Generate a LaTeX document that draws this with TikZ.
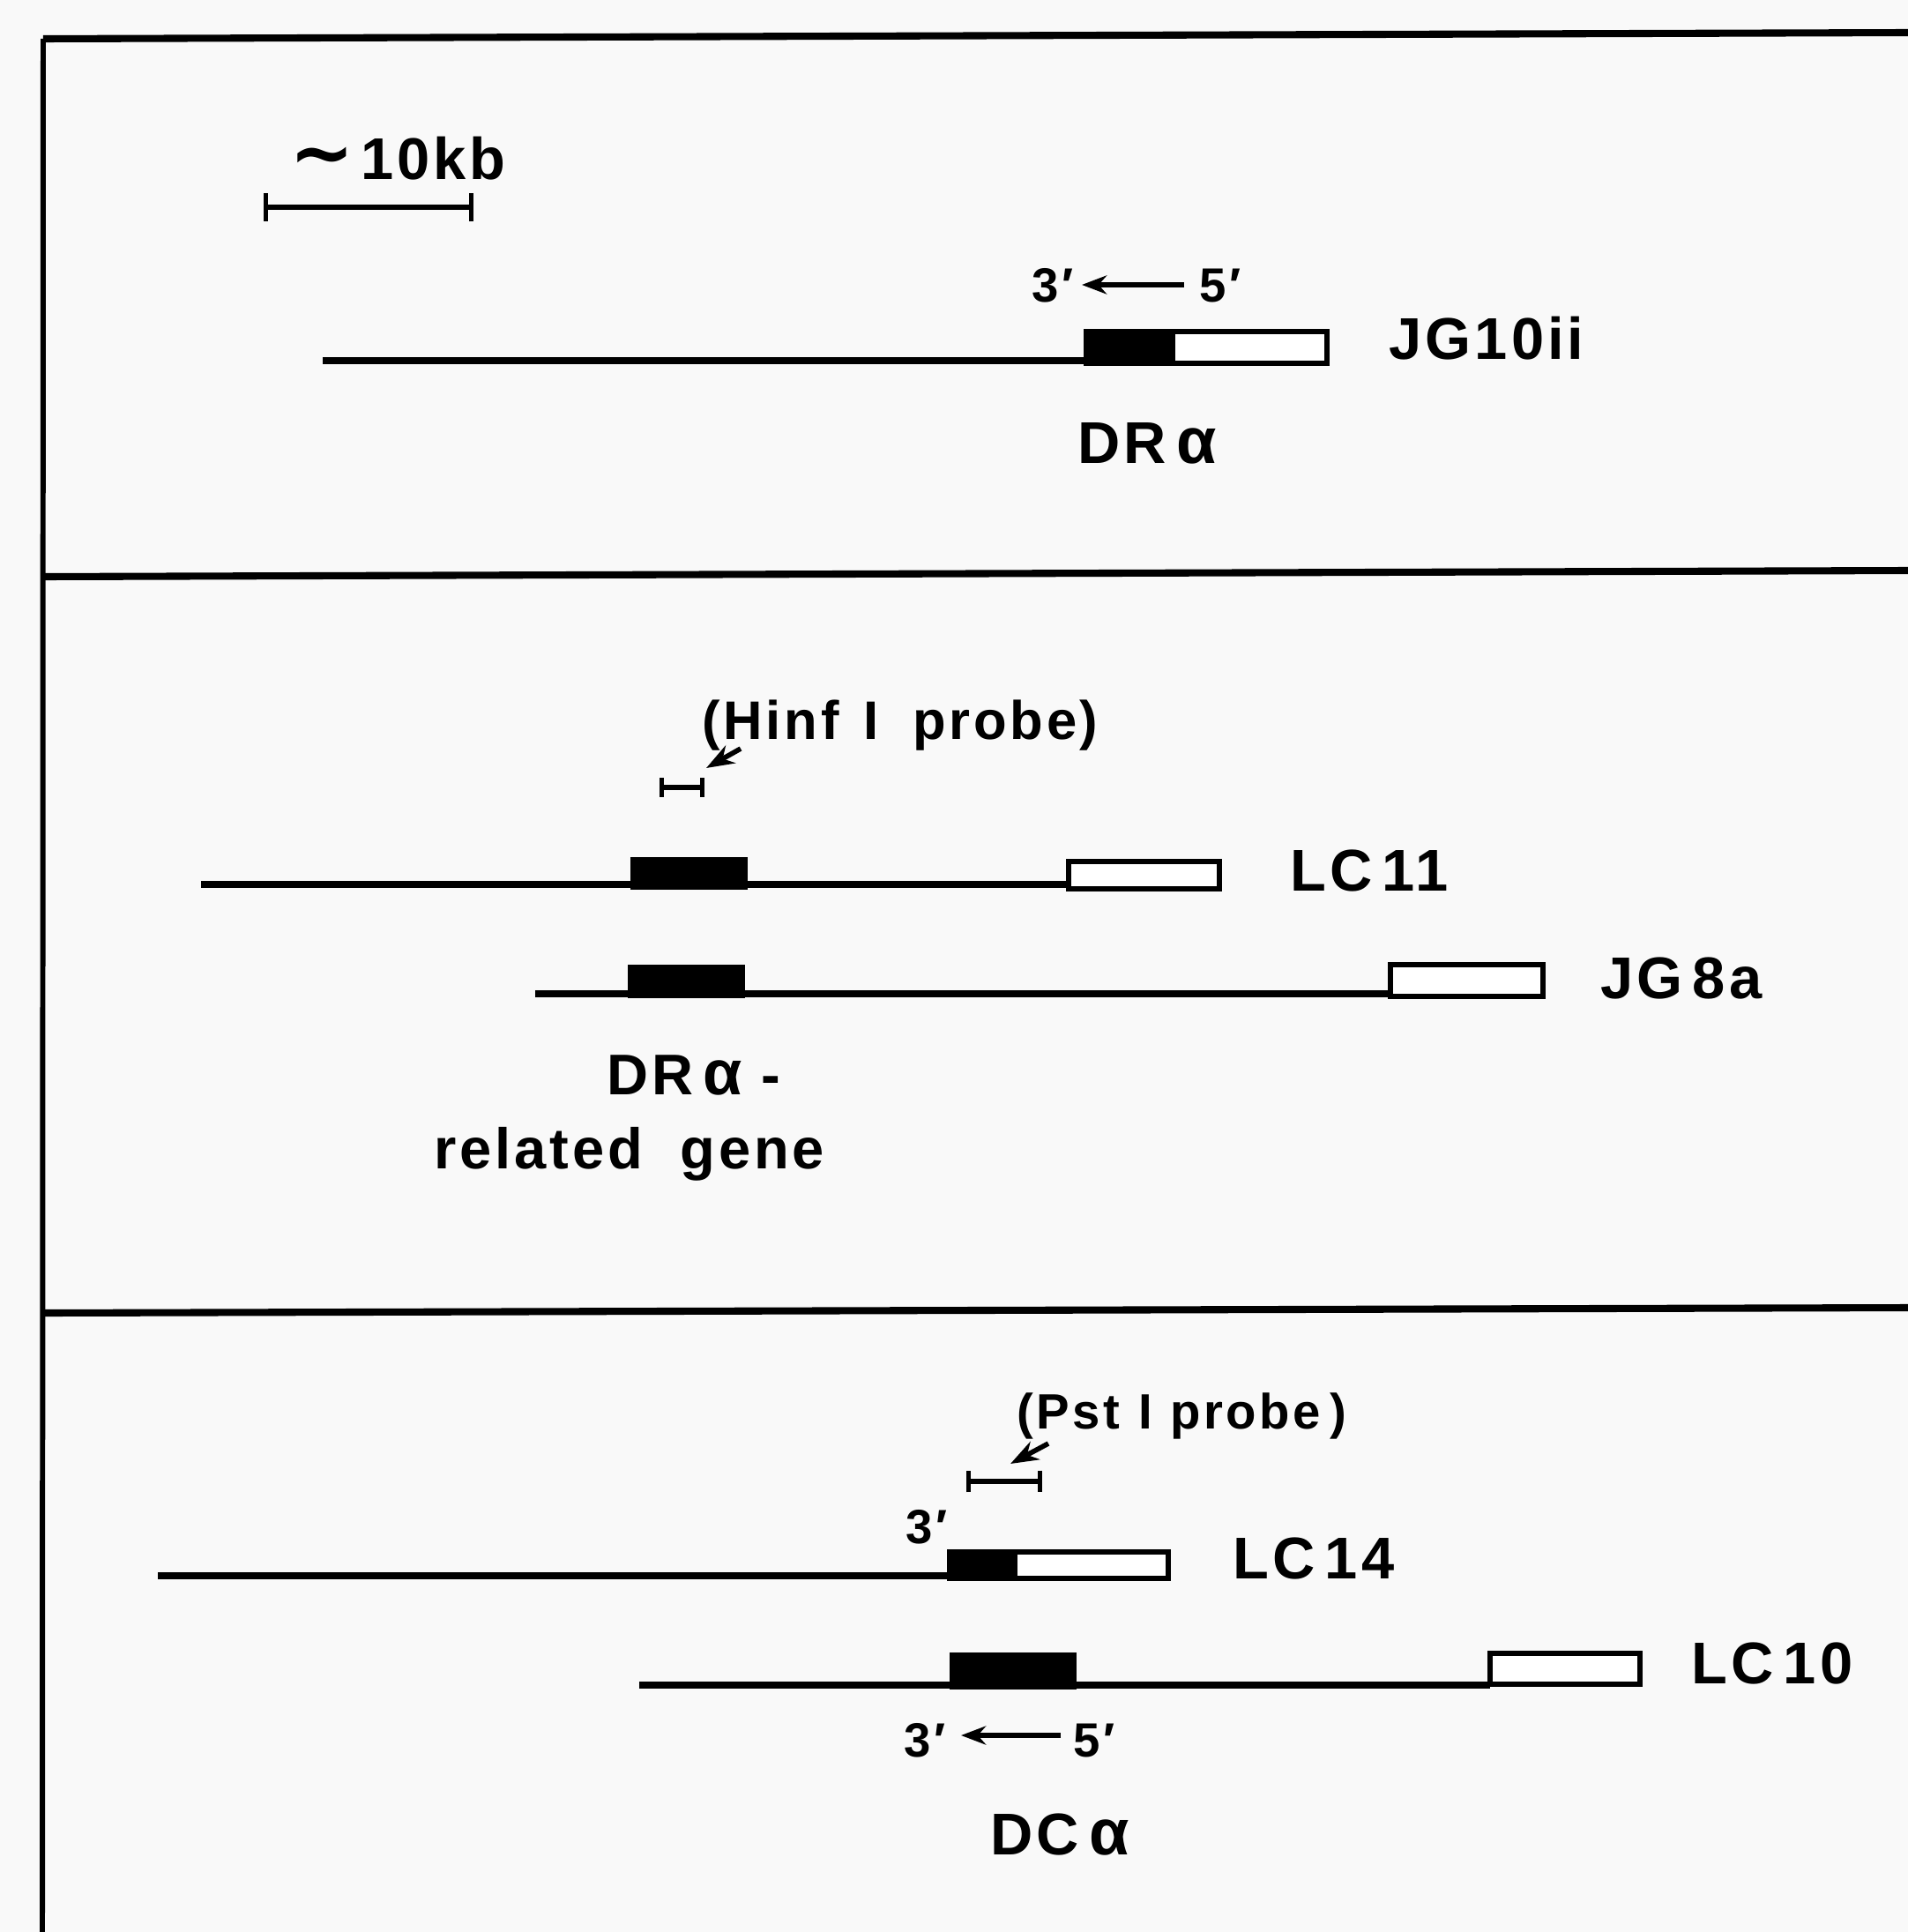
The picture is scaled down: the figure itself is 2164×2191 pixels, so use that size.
\documentclass[tikz,border=0pt]{standalone}
\usepackage{fontspec}
\setmainfont{Liberation Sans}[LetterSpace=6]
\newfontfamily\symfont{DejaVu Sans}
\usetikzlibrary{arrows.meta}
\tikzset{
  dna/.style={line width=2.3pt},
  frameline/.style={line width=2.3pt},
  sideline/.style={line width=1.7pt},
  whitebox/.style={draw=black, fill=white, line width=1.6pt},
  blackbox/.style={draw=black, fill=black, line width=1.6pt},
  lab/.style={font=\fontsize{19}{22}\selectfont\bfseries, inner sep=0pt, anchor=base west},
  midlab/.style={font=\fontsize{17.5}{20}\selectfont\bfseries, inner sep=0pt, anchor=base west},
  genelab/.style={font=\fontsize{18.5}{21}\selectfont\bfseries, inner sep=0pt, anchor=base west},
  pstlab/.style={font=\fontsize{16}{18}\selectfont\bfseries, inner sep=0pt, anchor=base west},
  endlab/.style={font=\fontsize{15.5}{18}\selectfont\bfseries, inner sep=0pt, anchor=base west},
  dirarrow/.style={line width=1.6pt, -{Stealth[length=8pt,width=6pt]}},
  pointer/.style={line width=1.6pt, -{Stealth[length=9pt,width=6.5pt]}},
  scalebar/.style={line width=1.5pt, {Bar[width=9pt,line width=1.5pt]}-{Bar[width=9pt,line width=1.5pt]}},
  probebar/.style={line width=1.5pt, {Bar[width=6pt,line width=1.5pt]}-{Bar[width=6pt,line width=1.5pt]}},
  probebarb/.style={line width=1.5pt, {Bar[width=7pt,line width=1.5pt]}-{Bar[width=7pt,line width=1.5pt]}}
}
\begin{document}
\begin{tikzpicture}[x=0.01cm,y=-0.01cm]
\useasboundingbox (0,0) rectangle (2164,2191);
\fill[fill={rgb,255:red,249;green,249;blue,249}] (0,0) rectangle (2164,2191);

% frame
\coordinate (ftl) at (49,44);
\coordinate (ftr) at (2164,37);
\coordinate (fbl) at (48,2191);
\draw[frameline] (ftl) -- (ftr);
\draw[sideline] (ftl) -- (fbl);
\coordinate (d1l) at (49,654);
\coordinate (d1r) at (2164,647);
\draw[frameline] (d1l) -- (d1r);
\coordinate (d2l) at (49,1489);
\coordinate (d2r) at (2164,1483);
\draw[frameline] (d2l) -- (d2r);

% ---------- panel 1 ----------
\coordinate (sb1) at (299,235);
\coordinate (sb2) at (537,235);
\draw[scalebar] (sb1) -- (sb2);
\node[lab] (kb) at (328,203) {{\symfont\bfseries\fontsize{25}{26}\selectfont ∼}\hspace{2pt}10kb};

\coordinate (jgA) at (366,409);
\coordinate (jgB) at (1232,409);
\draw[dna] (jgA) -- (jgB);
\draw[blackbox] (1232,376) rectangle (1330,412);
\draw[whitebox] (1330,376) rectangle (1505,412);
\node[lab] (jg10) at (1575,407) {JG10ii};
\node[endlab] (t3a) at (1170,342) {3′};
\node[endlab] (f5a) at (1360,342) {5′};
\coordinate (a1s) at (1343,323);
\coordinate (a1e) at (1227,323);
\draw[dirarrow] (a1s) -- (a1e);
\node[lab] (dra) at (1222,525) {DR\,{\fontsize{21}{22}\selectfont α}};

% ---------- panel 2 ----------
\node[midlab] (hinf) at (796,838) {(Hinf\hspace{8pt}I\hspace{11pt}probe)};
\coordinate (hp1) at (748,893);
\coordinate (hp2) at (799,893);
\draw[probebar] (hp1) -- (hp2);
\coordinate (hq1) at (840,849);
\coordinate (hq2) at (801,871);
\draw[pointer] (hq1) -- (hq2);

\coordinate (lcA) at (228,1003);
\coordinate (lcB) at (1212,1003);
\draw[dna] (lcA) -- (lcB);
\draw[blackbox] (718,975) rectangle (845,1006);
\draw[whitebox] (1212,977) rectangle (1383,1008);
\node[lab] (lc11) at (1463,1010) {LC\,11};

\coordinate (j8A) at (607,1127);
\coordinate (j8B) at (1577,1127);
\draw[dna] (j8A) -- (j8B);
\draw[blackbox] (715,1097) rectangle (842,1129);
\draw[whitebox] (1577,1094) rectangle (1750,1130);
\node[lab] (jg8) at (1815,1132) {JG\,8a};

\node[genelab] (drrel) at (688,1241) {DR\,{\fontsize{20.5}{22}\selectfont α}\,\,-};
\node[genelab] (relgene) at (492,1325) {related\hspace{12pt}gene};

% ---------- panel 3 ----------
\node[pstlab] (pst) at (1153,1620) {(Pst\hspace{6pt}I\hspace{6pt}probe\hspace{3pt})};
\coordinate (pp1) at (1096,1680);
\coordinate (pp2) at (1182,1680);
\draw[probebarb] (pp1) -- (pp2);
\coordinate (pq1) at (1189,1637);
\coordinate (pq2) at (1146,1660);
\draw[pointer] (pq1) -- (pq2);

\node[endlab] (t3b) at (1027,1750) {3′};
\coordinate (c4A) at (179,1787);
\coordinate (c4B) at (1077,1787);
\draw[dna] (c4A) -- (c4B);
\draw[blackbox] (1077,1760) rectangle (1151,1790);
\draw[whitebox] (1151,1760) rectangle (1325,1790);
\node[lab] (lc14) at (1398,1790) {LC\,14};

\coordinate (c0A) at (725,1911);
\coordinate (c0B) at (1690,1911);
\draw[dna] (c0A) -- (c0B);
\draw[blackbox] (1080,1877) rectangle (1218,1913);
\draw[whitebox] (1690,1875) rectangle (1860,1910);
\node[lab] (lc10) at (1918,1909) {LC\,10};

\node[endlab] (t3c) at (1025,1992) {3′};
\node[endlab] (f5c) at (1217,1992) {5′};
\coordinate (a2s) at (1203,1968);
\coordinate (a2e) at (1090,1968);
\draw[dirarrow] (a2s) -- (a2e);
\node[lab] (dca) at (1123,2103) {DC\,{\fontsize{21}{22}\selectfont α}};
\end{tikzpicture}
\end{document}
